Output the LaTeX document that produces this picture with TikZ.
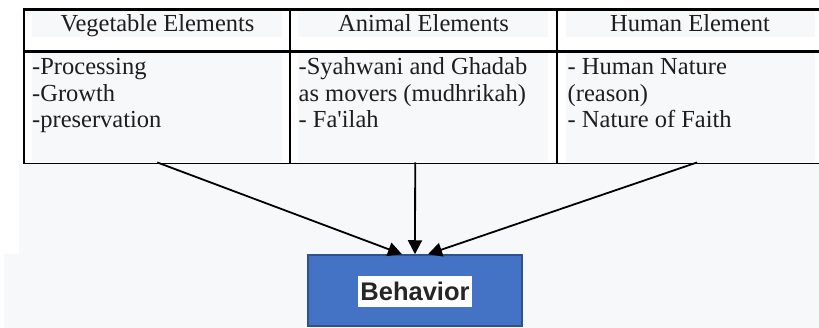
\documentclass[tikz,border=0pt]{standalone}
\usepackage{fontspec}
\setmainfont{Liberation Serif}
\setsansfont{Liberation Sans}
\usetikzlibrary{arrows.meta}
\definecolor{cellgray}{HTML}{F7F8FA}
\definecolor{boxblue}{HTML}{4472C4}
\definecolor{boxedge}{HTML}{2F528F}
\definecolor{txtdark}{HTML}{262626}
\tikzset{
  cell/.style={fill=cellgray,inner sep=0,anchor=north west,minimum width=250,minimum height=109},
  headcell/.style={cell,minimum height=27},
  headtxt/.style={anchor=base,text=txtdark!80!black,font=\fontsize{24.5}{27}\selectfont},
  bodytxt/.style={anchor=north west,inner sep=0,align=left,text=txtdark!80!black,font=\fontsize{24.5}{26.5}\selectfont},
  flow/.style={-{Triangle[length=14pt,width=14pt]},line width=1.8pt},
  behavbox/.style={fill=boxblue,draw=boxedge,line width=1.5pt,minimum width=214,minimum height=71,inner sep=0},
  behavtxt/.style={fill=white,text=txtdark,font=\sffamily\bfseries\fontsize{25.5}{30}\selectfont,
    inner xsep=2.5pt,inner ysep=6pt,text height=18.5pt,text depth=0.5pt}
}
\begin{document}
\begin{tikzpicture}[x=1pt,y=-1pt]
\useasboundingbox (0,0) rectangle (819,328);
\fill[cellgray] (19,163.5)--(819,163.5)--(819,328)--(4,328)--(4,254)--(19,254)--cycle;

\node[headcell] (veghead) at (32,10) {};
\node[headcell] (anihead) at (298,10) {};
\node[headcell,minimum width=249] (humhead) at (566,10) {};
\node[cell] (vegcell) at (32,53) {};
\node[cell] (anicell) at (298,53) {};
\node[cell,minimum width=249] (humcell) at (566,53) {};

\node[headtxt] (vegtitle) at (157.5,32) {Vegetable Elements};
\node[headtxt] (anititle) at (423.5,32) {Animal Elements};
\node[headtxt] (humtitle) at (690,32) {Human Element};
\node[bodytxt] (vegtext) at (32,58.3) {-Processing\\-Growth\\-preservation};
\node[bodytxt] (anitext) at (298.5,57.8) {-Syahwani and Ghadab\\as movers (mudhrikah)\\- Fa\textquotesingle ilah};
\node[bodytxt] (humtext) at (567.5,58.3) {- Human Nature\\(reason)\\- Nature of Faith};

\draw[line width=2.5pt] (22.5,9.7)--(819,9.7) (22.5,51.3)--(819,51.3)
 (23.8,8.5)--(23.8,164) (290,8.5)--(290,163) (557,8.5)--(557,163);
\draw[line width=1.3pt] (22.5,163.3)--(819,163.3);

\node[behavbox] (behav) at (415,290.5) {};
\node[behavtxt] (behavlabel) at (415,291.5) {Behavior};

\draw[flow] (vegcell.south)--([xshift=-13pt]behav.north);
\draw[flow] ([xshift=-8pt]anicell.south)--(behav.north);
\draw[flow] ([xshift=6.5pt]humcell.south)--([xshift=13pt]behav.north);
\end{tikzpicture}
\end{document}
